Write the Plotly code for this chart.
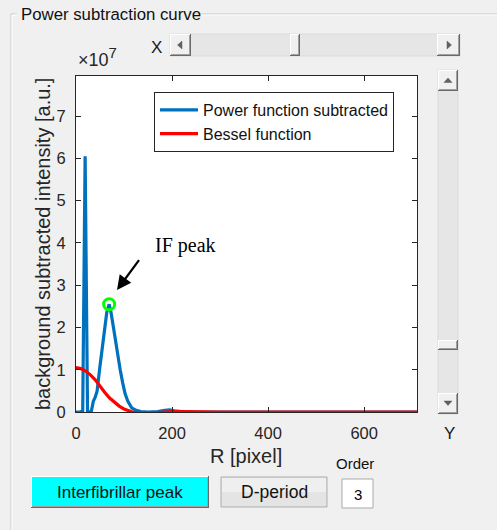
import plotly.graph_objects as go

# ---- data -------------------------------------------------------------
SCALE = 1e7

r_power = [0, 8, 14, 19, 24, 28, 32, 36, 40, 44, 49, 54, 59, 64, 69, 73, 78,
           85, 92, 97, 102, 108, 116, 125, 135, 150, 170, 185, 195, 205, 220,
           250, 300, 400, 500, 600, 710]
power_e7 = [0, 0, 0.02, 6.05, 0.02, 0, 0.02, 0.25, 0.35, 0.5, 1.0, 1.5, 2.0,
            2.35, 2.55, 2.35, 2.0, 1.45, 1.0, 0.7, 0.44, 0.25, 0.1, 0.04, 0.01,
            0.0, 0.01, 0.04, 0.05, 0.03, 0.01, 0.0, 0, 0, 0, 0, 0]

r_bessel = [0, 10, 20, 30, 40, 50, 60, 70, 80, 90, 100, 110, 120, 130, 140,
            155, 170, 185, 200, 220, 250, 300, 400, 500, 600, 710]
bessel_e7 = [1.05, 1.03, 0.97, 0.88, 0.76, 0.6, 0.46, 0.33, 0.23, 0.14, 0.07,
             0.02, -0.01, -0.03, -0.035, -0.03, -0.015, 0, 0.01, 0.01, 0, 0,
             0, 0, 0, 0]

peak_r = 69
x_ticks = [0, 200, 400, 600]
y_ticks_e7 = [0, 1, 2, 3, 4, 5, 6, 7]

X_MAX = 710
Y_MAX_E7 = 7.95

# ---- geometry helpers (window pixels -> paper coords) -------------------
FIG_W, FIG_H = 497, 530
L, R, T, B = 76, 417, 76, 412
W, H = R - L, B - T


def px(x):
    return (x - L) / W


def py(y):
    return (B - y) / H


AX = "#262626"
FONT = "Liberation Sans"

shapes = []
annots = []


def rect(x0, y0, x1, y1, fill, line=None, lw=1):
    shapes.append(dict(type="rect", xref="paper", yref="paper",
                       x0=px(x0), x1=px(x1), y0=py(y1), y1=py(y0),
                       fillcolor=fill,
                       line=dict(color=line or fill, width=lw if line else 0),
                       layer="above"))


def seg(x0, y0, x1, y1, color, lw=1):
    shapes.append(dict(type="line", xref="paper", yref="paper",
                       x0=px(x0), x1=px(x1), y0=py(y0), y1=py(y1),
                       line=dict(color=color, width=lw), layer="above"))


def tri(points, color):
    d = "M " + " L ".join(f"{px(a)},{py(b)}" for a, b in points) + " Z"
    shapes.append(dict(type="path", xref="paper", yref="paper", path=d,
                       fillcolor=color, line=dict(color=color, width=0.5),
                       layer="above"))


def bevel(x0, y0, x1, y1, face):
    rect(x0, y0, x1, y1, face)
    seg(x0, y0 + 0.5, x1, y0 + 0.5, "#ffffff")
    seg(x0 + 0.5, y0, x0 + 0.5, y1, "#ffffff")
    seg(x0, y1 - 0.5, x1, y1 - 0.5, "#696969")
    seg(x1 - 0.5, y0, x1 - 0.5, y1, "#696969")
    seg(x0 + 1, y1 - 1.5, x1 - 1, y1 - 1.5, "#a0a0a0")
    seg(x1 - 1.5, y0 + 1, x1 - 1.5, y1 - 1, "#a0a0a0")


def label(x, y, text, size, color="#000000", family=FONT, xanchor="center",
          yanchor="middle", angle=0):
    annots.append(dict(xref="paper", yref="paper", x=px(x), y=py(y),
                       text=text, showarrow=False, textangle=angle,
                       font=dict(family=family, size=size, color=color),
                       xanchor=xanchor, yanchor=yanchor))


# ---- panel frame ------------------------------------------------------
for x0, x1 in [(11, 17), (190, 497)]:
    seg(x0, 14, x1, 14, "#c8c8c8")
    seg(x0 + 1, 15, x1, 15, "#ffffff")
seg(11, 14, 11, 530, "#c8c8c8")
seg(12, 15, 12, 530, "#ffffff")
label(19, 14, "Power subtraction curve", 16.8, color="#111111",
      xanchor="left")

# ---- horizontal slider (X) -------------------------------------------
label(156, 47, "X", 17, color="#1a1a1a")
rect(170, 34, 460, 56, "#e6e6e6", "#dadada")
bevel(170, 34, 191, 56, "#f0f0f0")
bevel(437, 34, 460, 56, "#f0f0f0")
bevel(290, 34, 300, 56, "#f0f0f0")
tri([(177.5, 45), (182, 41), (182, 49)], "#606060")
tri([(451.5, 45), (447, 41), (447, 49)], "#606060")

# ---- vertical slider (Y) ---------------------------------------------
rect(438, 70, 458, 414, "#e6e6e6", "#dadada")
bevel(438, 70, 458, 91, "#f0f0f0")
bevel(438, 393, 458, 414, "#f0f0f0")
bevel(438, 340, 458, 350, "#f0f0f0")
tri([(448, 78), (444, 82.5), (452, 82.5)], "#606060")
tri([(448, 405.5), (444, 401), (452, 401)], "#606060")
label(449, 433, "Y", 17, color="#1a1a1a")

# ---- buttons & edit box ----------------------------------------------
bevel(31, 476, 209, 508, "#00ffff")
label(120, 492, "Interfibrillar peak", 17, color="#111111")

rect(221, 477, 327, 507, "#e4e4e4", "#adadad")
rect(222, 478, 326, 492, "#efefef")
label(274, 492, "D-period", 17.5, color="#111111")

label(355, 464, "Order", 15, color="#111111")
rect(342, 479, 373, 508, "#ffffff", "#a9a9a9")
label(357.5, 494, "3", 15)

# ---- axes texts -------------------------------------------------------
label(43, 244, "background subtracted intensity [a.u.]", 20, color=AX,
      angle=-90)
label(246, 456, "R [pixel]", 20, color=AX)
label(76, 72, "\u00d710<sup><span style='font-size:15px'>7</span></sup>",
      18, color=AX, xanchor="left", yanchor="bottom")

# annotation for the interfibrillar peak
label(153, 245, "IF peak", 20, family="Liberation Serif",
      xanchor="left")
annots.append(dict(xref="paper", yref="paper", x=px(117), y=py(290),
                   ax=25, ay=-34, text=" ", showarrow=True, arrowhead=2,
                   arrowsize=1.3, arrowwidth=2.2, arrowcolor="#000000"))

# ---- traces -----------------------------------------------------------
fig = go.Figure()
fig.add_trace(go.Scatter(
    x=r_power, y=[v * SCALE for v in power_e7], mode="lines",
    name="Power function subtracted",
    line=dict(color="#0072BD", width=3.2)))
fig.add_trace(go.Scatter(
    x=r_bessel, y=[v * SCALE for v in bessel_e7], mode="lines",
    name="Bessel function",
    line=dict(color="#FF0000", width=3.2)))
i_peak = r_power.index(peak_r)
fig.add_trace(go.Scatter(
    x=[r_power[i_peak]], y=[power_e7[i_peak] * SCALE], mode="markers",
    showlegend=False,
    marker=dict(symbol="circle-open", size=11, color="#00FF00",
                line=dict(width=3, color="#00FF00"))))

axis_common = dict(showline=True, mirror="ticks", linecolor=AX, linewidth=1,
                   ticks="inside", ticklen=5, tickcolor=AX, tickwidth=1,
                   showgrid=False, zeroline=False,
                   tickfont=dict(family=FONT, size=16.5, color=AX))

fig.update_layout(
    width=FIG_W, height=FIG_H, autosize=False,
    margin=dict(l=L, r=FIG_W - R, t=T, b=FIG_H - B),
    paper_bgcolor="#f0f0f0", plot_bgcolor="#ffffff",
    font=dict(family=FONT, color=AX),
    xaxis=dict(range=[0, X_MAX], tickvals=x_ticks,
               ticktext=[str(v) for v in x_ticks], ticklabelstandoff=6,
               **axis_common),
    yaxis=dict(range=[0, Y_MAX_E7 * SCALE],
               tickvals=[v * SCALE for v in y_ticks_e7],
               ticktext=[str(v) for v in y_ticks_e7], ticklabelstandoff=6,
               **axis_common),
    legend=dict(x=px(154), y=py(92), xanchor="left", yanchor="top",
                bgcolor="#ffffff", bordercolor=AX, borderwidth=1,
                font=dict(family=FONT, size=16, color="#111111"),
                itemwidth=38, tracegroupgap=0),
    shapes=shapes, annotations=annots,
)

fig.write_html("out.html")
